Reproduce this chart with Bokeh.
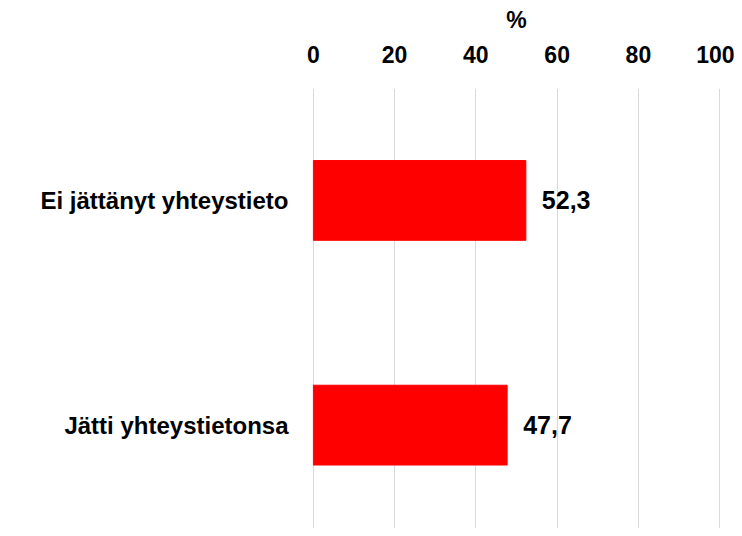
from bokeh.plotting import figure
from bokeh.models import ColumnDataSource, FixedTicker, Range1d
from bokeh.embed import file_html
from bokeh.resources import INLINE
from bokeh.core.properties import value

categories = ["Ei jättänyt yhteystieto", "Jätti yhteystietonsa"]
values = [52.3, 47.7]
labels = ["52,3", "47,7"]
x_ticks = [0, 20, 40, 60, 80, 100]

FONT = "Liberation Sans"

n = len(categories)
ypos = [n - i - 0.5 for i in range(n)]
src = ColumnDataSource(dict(y=ypos, val=values, lab=labels))

p = figure(width=734, height=528, output_backend="svg", toolbar_location=None,
           y_range=Range1d(0.04, 1.998),
           x_range=Range1d(-0.2, 100.2), x_axis_location="above",
           min_border_left=312, min_border_right=14, min_border_top=88, min_border_bottom=0)

p.hbar(y="y", right="val", left=0, height=0.355, source=src, color="#FF0000",
       line_color="#FF0000")
p.text(x="val", y="y", text="lab", source=src, x_offset=16,
       text_baseline="middle", text_align="left", text_font=value(FONT),
       text_font_size="25px", text_font_style="bold", text_color="black")

p.outline_line_color = None
p.xgrid.ticker = FixedTicker(ticks=x_ticks)
p.xgrid.grid_line_color = "#D9D9D9"
p.xgrid.grid_line_width = 1
p.ygrid.grid_line_color = None

xa = p.xaxis[0]
xa.ticker = FixedTicker(ticks=x_ticks)
xa.axis_label = "%"
xa.axis_label_text_font = FONT
xa.axis_label_text_font_style = "bold"
xa.axis_label_text_font_size = "23px"
xa.axis_label_text_color = "black"
xa.axis_label_standoff = 10
xa.major_label_text_font = FONT
xa.major_label_text_font_style = "bold"
xa.major_label_text_font_size = "23px"
xa.major_label_text_color = "black"
xa.major_label_standoff = 20
xa.axis_line_color = None
xa.major_tick_line_color = None
xa.minor_tick_line_color = None

ya = p.yaxis[0]
ya.ticker = FixedTicker(ticks=ypos)
ya.major_label_overrides = {y: c for y, c in zip(ypos, categories)}
ya.major_label_text_font = FONT
ya.major_label_text_font_style = "bold"
ya.major_label_text_font_size = "24px"
ya.major_label_text_color = "black"
ya.major_label_standoff = 18
ya.axis_line_color = None
ya.major_tick_line_color = None
ya.minor_tick_line_color = None

open("out.html", "w").write(file_html(p, INLINE))
